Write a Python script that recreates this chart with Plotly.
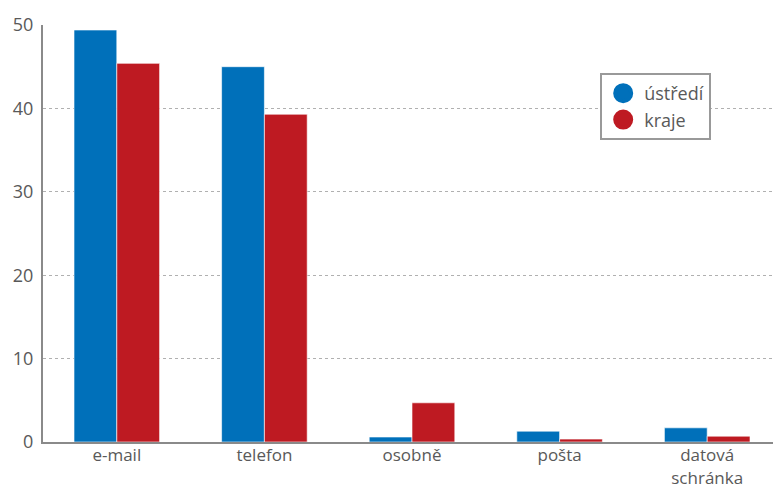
import plotly.graph_objects as go

categories = ["e-mail", "telefon", "osobně", "pošta", "datová<br>schránka"]
ustredi = [49.4, 45.0, 0.6, 1.3, 1.7]
kraje = [45.4, 39.3, 4.7, 0.35, 0.7]
series_names = ["ústředí", "kraje"]
colors = ["#0070BA", "#BE1A22"]

fig = go.Figure()
for name, vals, col in zip(series_names, [ustredi, kraje], colors):
    fig.add_trace(go.Bar(x=categories, y=vals, name=name, marker_color=col,
                         marker_line=dict(color="rgba(255,255,255,0.6)", width=1),
                         showlegend=False))
for name, col in zip(series_names, colors):
    fig.add_trace(go.Scatter(x=[None], y=[None], mode="markers", name=name,
                             marker=dict(symbol="circle", size=16, color=col,
                                         line=dict(color=col, width=4))))

# page body has an 8px default margin, so the figure is sized to fill the rest
fig.update_layout(
    width=773, height=482,
    margin=dict(l=35, r=0, t=17, b=48),
    paper_bgcolor="white", plot_bgcolor="white",
    barmode="group", bargap=0.42, bargroupgap=0,
    font=dict(family="Open Sans, Noto Sans, sans-serif", size=17, color="#595959"),
    showlegend=True,
    legend=dict(x=0.755, y=0.885, xanchor="left", yanchor="top",
                bordercolor="#999999", borderwidth=2, bgcolor="white",
                font=dict(size=18, color="#595959"), tracegroupgap=0,
                itemwidth=32),
    xaxis=dict(showline=True, linecolor="#8a8a8a", linewidth=2, ticks="",
               showgrid=False, automargin=False, ticklabelstandoff=-3,
               tickfont=dict(size=17, color="#595959")),
    yaxis=dict(range=[0, 50], dtick=10, showline=True, linecolor="#8a8a8a", linewidth=2,
               showgrid=True, gridcolor="#b0b0b0", griddash="dot", gridwidth=1,
               zeroline=False, ticks="", automargin=False, ticklabelstandoff=4,
               tickfont=dict(size=18, color="#595959")),
)
fig.write_html("out.html")
